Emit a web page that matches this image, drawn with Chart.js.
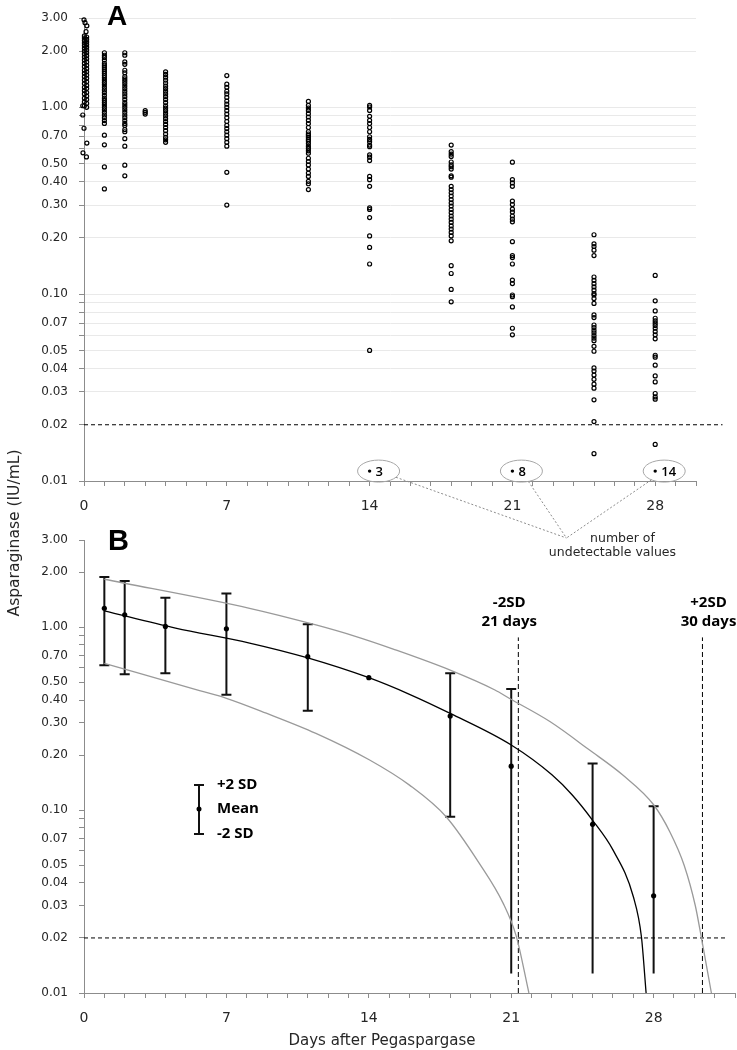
<!DOCTYPE html>
<html>
<head>
<meta charset="utf-8">
<title>Asparaginase activity after pegaspargase</title>
<script src="https://cdn.jsdelivr.net/npm/chart.js@4.4.1/dist/chart.umd.min.js"></script>
<style>
  html, body { margin: 0; padding: 0; background: #fff; }
  #figure { position: relative; width: 737px; height: 1050px; overflow: hidden; }
  #chartA { position: absolute; left: 0; top: 0; }
  #chartB { position: absolute; left: 0; top: 520px; }
  .axis-title { position: absolute; font-family: "DejaVu Sans", sans-serif; font-size: 15px; line-height: 20px; color: #262626; white-space: nowrap; text-align: center; }
  #yTitle { left: -86px; top: 523px; width: 200px; font-size: 15.5px; transform: rotate(-90deg); }
  #xTitle { left: 232px; top: 1030px; width: 300px; }
</style>
</head>
<body>
<div id="figure">
  <canvas id="chartA" width="737" height="570"></canvas>
  <canvas id="chartB" width="747" height="530"></canvas>
  <div id="yTitle" class="axis-title">Asparaginase (IU/mL)</div>
  <div id="xTitle" class="axis-title">Days after Pegaspargase</div>
</div>
<script>
// ---------- shared axis ticks ----------
const yTickValues = [0.01, 0.02, 0.03, 0.04, 0.05, 0.06, 0.07, 0.08, 0.09, 0.1, 0.2, 0.3, 0.4, 0.5, 0.6, 0.7, 0.8, 0.9, 1, 2, 3];
const yTickLabels = ['0.01', '0.02', '0.03', '0.04', '0.05', '', '0.07', '', '', '0.10', '0.20', '0.30', '0.40', '0.50', '', '0.70', '', '', '1.00', '2.00', '3.00'];
const xLabelDays = [0, 7, 14, 21, 28];
const lloq = 0.02; // lower limit of quantification (dashed line)

// ---------- panel A: individual samples (IU/mL) ----------
const day0Times = [0, 0.05, 0.14, 0.1,
  0.02, 0.13, 0.02, 0.13, 0.02, 0.13, 0.02, 0.13, 0.02, 0.13, 0.02, 0.13, 0.02, 0.13, 0.02, 0.13,
  0.02, 0.13, 0.02, 0.13, 0.02, 0.13, 0.02, 0.13, 0.02, 0.13, 0.02, 0.13, 0.02, 0.13, 0.02, 0.13,
  0.02, 0.13, 0.02, 0.13, 0.02, 0.13, 0.02, 0.13, 0.02, 0.13, 0.02, 0.13, 0.02, 0.13,
  -0.06, -0.06, 0, 0.14, -0.05, 0.12];
const day0Levels = [2.94, 2.84, 2.73, 2.54,
  2.41, 2.38, 2.35, 2.31, 2.28, 2.24, 2.21, 2.17, 2.14, 2.10, 2.07, 2.03, 2.00, 1.96, 1.93, 1.89,
  1.86, 1.82, 1.79, 1.75, 1.72, 1.68, 1.65, 1.61, 1.58, 1.55, 1.52, 1.49, 1.46, 1.43, 1.40, 1.37,
  1.34, 1.31, 1.28, 1.26, 1.23, 1.20, 1.18, 1.15, 1.12, 1.10, 1.07, 1.05, 1.02, 1.00,
  1.02, 0.91, 0.773, 0.644, 0.571, 0.543];
const day1Levels = [1.96, 1.90, 1.85, 1.79, 1.72, 1.68, 1.64, 1.60, 1.56, 1.52, 1.48, 1.44, 1.40, 1.36, 1.32, 1.28, 1.24, 1.20, 1.16, 1.12, 1.09, 1.06, 1.03, 1.00, 0.97, 0.94, 0.91, 0.88, 0.85, 0.82, 0.71, 0.63, 0.48, 0.366];
const day2Levels = [1.96, 1.90, 1.75, 1.70, 1.58, 1.53, 1.46, 1.42, 1.38, 1.34, 1.30, 1.26, 1.22, 1.18, 1.14, 1.10, 1.06, 1.03, 1.00, 0.97, 0.94, 0.91, 0.88, 0.85, 0.82, 0.80, 0.76, 0.74, 0.68, 0.62, 0.49, 0.43];
const day3Levels = [0.96, 0.94, 0.92];
const day4Levels = [1.55, 1.50, 1.45, 1.40, 1.35, 1.30, 1.26, 1.22, 1.18, 1.14, 1.10, 1.06, 1.02, 0.99, 0.96, 0.93, 0.90, 0.87, 0.84, 0.81, 0.78, 0.75, 0.72, 0.69, 0.67, 0.65];
const day7Levels = [1.48, 1.33, 1.28, 1.22, 1.18, 1.13, 1.08, 1.04, 1.00, 0.96, 0.92, 0.88, 0.84, 0.80, 0.77, 0.74, 0.71, 0.68, 0.65, 0.62, 0.449, 0.30];
const day11Levels = [1.075, 1.024, 0.992, 0.963, 0.925, 0.888, 0.852, 0.819, 0.780, 0.740, 0.720, 0.707, 0.690, 0.673, 0.660, 0.641, 0.620, 0.603, 0.585, 0.568, 0.534, 0.513, 0.492, 0.467, 0.445, 0.427, 0.402, 0.390, 0.363];
const day14Levels = [1.024, 1.004, 0.963, 0.895, 0.852, 0.819, 0.780, 0.740, 0.696, 0.673, 0.655, 0.628, 0.616, 0.556, 0.541, 0.519, 0.427, 0.410, 0.378, 0.290, 0.284, 0.257, 0.205, 0.178, 0.145, 0.050];
const day18Levels = [0.628, 0.580, 0.562, 0.546, 0.510, 0.492, 0.481, 0.467, 0.430, 0.423, 0.378, 0.363, 0.349, 0.335, 0.321, 0.308, 0.296, 0.284, 0.273, 0.262, 0.252, 0.242, 0.232, 0.223, 0.214, 0.205, 0.193, 0.142, 0.129, 0.106, 0.091];
const day21Levels = [0.509, 0.410, 0.394, 0.378, 0.315, 0.302, 0.285, 0.275, 0.262, 0.252, 0.244, 0.191, 0.161, 0.157, 0.145, 0.119, 0.114, 0.099, 0.097, 0.0855, 0.0657, 0.0606];
const day25Levels = [0.208, 0.186, 0.180, 0.172, 0.161, 0.1236, 0.1186, 0.1138, 0.1093, 0.105, 0.1007, 0.0989, 0.0948, 0.0892, 0.0774, 0.0749, 0.0684, 0.0663, 0.0641, 0.0621, 0.0601, 0.0582, 0.0564, 0.0526, 0.0495, 0.0403, 0.0388, 0.0369, 0.035, 0.033, 0.0314, 0.0272, 0.0208, 0.014];
const day28Levels = [0.126, 0.0921, 0.0813, 0.0743, 0.0719, 0.0699, 0.0679, 0.0657, 0.0631, 0.0606, 0.0577, 0.0471, 0.046, 0.0417, 0.0365, 0.0339, 0.0294, 0.0282, 0.0274, 0.0157];
const sampleDays = [1, 2, 3, 4, 7, 11, 14, 18, 21, 25, 28];
const sampleLevels = [day1Levels, day2Levels, day3Levels, day4Levels, day7Levels, day11Levels, day14Levels, day18Levels, day21Levels, day25Levels, day28Levels];

// undetectable samples (shown as counts below the LLOQ)
const undetectDays = [14, 21, 28];
const undetectCounts = [3, 8, 14];
const undetectMarkLevel = 0.0113;
const calloutDay = 23.65;

// ---------- panel B: mean +/- 2 SD ----------
const barDays = [1, 2, 4, 7, 11, 14, 18, 21, 25, 28];
const meanLevels = [1.27, 1.17, 1.01, 0.98, 0.69, 0.53, 0.327, 0.174, 0.0836, 0.034];
const upperLevels = [1.88, 1.79, 1.45, 1.53, 1.04, null, 0.56, 0.46, 0.18, 0.105];
const lowerLevels = [0.62, 0.553, 0.56, 0.428, 0.35, null, 0.092, 0.0128, 0.0128, 0.0128];
const lowerCapped = [true, true, true, true, true, false, true, false, false, false];

const meanCurveDays = [1, 4.5, 8.14, 11, 14, 16, 18, 21, 23, 24, 25, 26, 27, 27.4, 27.63];
const meanCurveLevels = [1.23, 0.99, 0.82, 0.68, 0.53, 0.43, 0.338, 0.227, 0.156, 0.121, 0.088, 0.0606, 0.0337, 0.0203, 0.01];
const upperCurveDays = [1, 8.14, 11.4, 13.3, 15.2, 18, 20.2, 20.9, 22.9, 24.85, 26.5, 28, 28.8, 29.5, 30.05, 30.35, 30.84];
const upperCurveLevels = [1.83, 1.27, 1.03, 0.895, 0.76, 0.583, 0.454, 0.409, 0.305, 0.213, 0.155, 0.107, 0.076, 0.05, 0.03, 0.02, 0.01];
const lowerCurveDays = [1, 5.68, 7, 8.96, 11.4, 14.04, 16, 17.8, 19.44, 20.6, 21.25, 21.87];
const lowerCurveLevels = [0.635, 0.45, 0.409, 0.339, 0.263, 0.188, 0.137, 0.092, 0.051, 0.031, 0.0204, 0.01];

const cutoffDays = [21.35, 30.4];
const cutoffLabelDays = [20.9, 30.7];
const cutoffLabels = [['-2SD', '21 days'], ['+2SD', '30 days']];
const cutoffTopLevel = 0.88;

const toPoints = (xs, ys) => xs.map((x, i) => ({ x: x, y: ys[i] }));

Chart.defaults.font.family = '"DejaVu Sans", sans-serif';
Chart.defaults.color = '#262626';

function logAxis(showGrid) {
  return {
    type: 'logarithmic', min: 0.01, max: 3, bounds: 'data',
    afterBuildTicks: s => { s.ticks = yTickValues.map(v => ({ value: v })); },
    afterFit: s => { s.width = 84; },
    ticks: { autoSkip: false, padding: 11, font: { size: 12 }, color: '#262626',
      callback: (v, i) => yTickLabels[i] },
    grid: { drawOnChartArea: showGrid, tickLength: 5, tickColor: '#8c8c8c',
      color: c => (c.tick && c.tick.value <= 0.02) ? 'rgba(0,0,0,0)' : '#e9e9e9' },
    border: { color: '#8c8c8c' }
  };
}

function dayAxis(maxDay, height) {
  return {
    type: 'linear', min: 0, max: maxDay,
    afterFit: s => { s.height = height; },
    ticks: { stepSize: 1, autoSkip: false, maxRotation: 0, padding: 12, font: { size: 14 }, color: '#262626',
      callback: v => (xLabelDays.includes(v) ? String(v) : '') },
    grid: { drawOnChartArea: false, tickLength: 5, tickColor: '#8c8c8c' },
    border: { color: '#8c8c8c' }
  };
}

// ---------- panel A ----------
const samplePoints = toPoints(day0Times, day0Levels);
sampleDays.forEach((d, i) => sampleLevels[i].forEach(v => samplePoints.push({ x: d, y: v })));

const panelADecor = {
  id: 'panelADecor',
  afterDatasetsDraw(chart) {
    const { ctx, chartArea, scales: { x, y } } = chart;
    ctx.save();
    ctx.fillStyle = '#000';
    ctx.font = 'bold 28px "Liberation Sans", sans-serif';
    ctx.textAlign = 'left';
    ctx.textBaseline = 'alphabetic';
    ctx.fillText('A', 107, 25);

    const hubX = x.getPixelForValue(calloutDay);
    const hubY = chartArea.bottom + 57;
    const rx = 21, ry = 11;
    undetectDays.forEach((d, i) => {
      const px = x.getPixelForValue(d);
      const py = y.getPixelForValue(undetectMarkLevel);
      const cx = px + 9;
      ctx.setLineDash([]);
      ctx.strokeStyle = '#a6a6a6';
      ctx.lineWidth = 1;
      ctx.beginPath();
      ctx.ellipse(cx, py, rx, ry, 0, 0, Math.PI * 2);
      ctx.stroke();
      ctx.fillStyle = '#000';
      ctx.font = '600 13px "Open Sans", sans-serif';
      ctx.textBaseline = 'middle';
      ctx.fillText(String(undetectCounts[i]), px + 6, py + 1);
      // leader line to the note
      const t = Math.atan2((hubY - py) / ry, (hubX - cx) / rx);
      ctx.setLineDash([2, 2]);
      ctx.strokeStyle = '#8c8c8c';
      ctx.beginPath();
      ctx.moveTo(cx + rx * Math.cos(t), py + ry * Math.sin(t));
      ctx.lineTo(hubX, hubY);
      ctx.stroke();
    });
    ctx.setLineDash([]);
    ctx.fillStyle = '#262626';
    ctx.font = '12.5px "DejaVu Sans", sans-serif';
    ctx.textAlign = 'center';
    ctx.textBaseline = 'middle';
    ctx.fillText('number of', hubX + 56, hubY + 1);
    ctx.fillText('undetectable values', hubX + 46, hubY + 15);
    ctx.restore();
  }
};

new Chart(document.getElementById('chartA'), {
  type: 'scatter',
  data: {
    datasets: [
      { data: samplePoints, pointRadius: 2, borderWidth: 1.2, borderColor: '#000',
        backgroundColor: 'rgba(255,255,255,0)', clip: false },
      { data: undetectDays.map(d => ({ x: d, y: undetectMarkLevel })), pointRadius: 1.7,
        borderWidth: 0, backgroundColor: '#000' },
      { data: [{ x: 0, y: lloq }, { x: 31.3, y: lloq }], showLine: true, pointRadius: 0,
        borderColor: '#000', borderWidth: 1, borderDash: [4, 3], clip: false }
    ]
  },
  options: {
    responsive: false, animation: false, events: [],
    layout: { padding: { top: 13.5, right: 41, left: 0, bottom: 0 } },
    plugins: { legend: { display: false }, tooltip: { enabled: false } },
    scales: { x: dayAxis(30, 89), y: logAxis(true) }
  },
  plugins: [panelADecor]
});

// ---------- panel B ----------
const panelBDecor = {
  id: 'panelBDecor',
  beforeDatasetsDraw(chart) {
    const { ctx, scales: { x, y } } = chart;
    ctx.save();
    ctx.strokeStyle = '#111';
    ctx.lineWidth = 2;
    barDays.forEach((d, i) => {
      if (upperLevels[i] == null) return;
      const px = x.getPixelForValue(d);
      const top = y.getPixelForValue(upperLevels[i]);
      const bot = y.getPixelForValue(lowerLevels[i]);
      ctx.beginPath();
      ctx.moveTo(px, top); ctx.lineTo(px, bot);
      ctx.moveTo(px - 5, top); ctx.lineTo(px + 5, top);
      if (lowerCapped[i]) { ctx.moveTo(px - 5, bot); ctx.lineTo(px + 5, bot); }
      ctx.stroke();
    });
    ctx.restore();
  },
  afterDatasetsDraw(chart) {
    const { ctx, scales: { x } } = chart;
    ctx.save();
    ctx.fillStyle = '#000';
    ctx.font = 'bold 29px "Liberation Sans", sans-serif';
    ctx.textAlign = 'left';
    ctx.textBaseline = 'alphabetic';
    ctx.fillText('B', 108, 30);

    ctx.font = 'bold 15px "Open Sans", sans-serif';
    ctx.textAlign = 'center';
    ctx.textBaseline = 'middle';
    cutoffLabelDays.forEach((d, i) => {
      const px = x.getPixelForValue(d);
      ctx.fillText(cutoffLabels[i][0], px, 83);
      ctx.fillText(cutoffLabels[i][1], px, 102);
    });

    // legend: error bar symbol
    const lx = 199, lt = 265, lm = 289, lb = 314;
    ctx.strokeStyle = '#111';
    ctx.lineWidth = 2;
    ctx.beginPath();
    ctx.moveTo(lx, lt); ctx.lineTo(lx, lb);
    ctx.moveTo(lx - 5, lt); ctx.lineTo(lx + 5, lt);
    ctx.moveTo(lx - 5, lb); ctx.lineTo(lx + 5, lb);
    ctx.stroke();
    ctx.beginPath();
    ctx.arc(lx, lm, 2.5, 0, Math.PI * 2);
    ctx.fill();
    ctx.textAlign = 'left';
    ctx.fillText('+2 SD', lx + 18, lt);
    ctx.fillText('Mean', lx + 18, lm);
    ctx.fillText('-2 SD', lx + 18, lb);
    ctx.restore();
  }
};

const curveStyle = { showLine: true, pointRadius: 0, borderWidth: 1.3, cubicInterpolationMode: 'monotone', clip: false };

new Chart(document.getElementById('chartB'), {
  type: 'scatter',
  data: {
    datasets: [
      { data: toPoints(barDays, meanLevels), pointRadius: 2.6, borderWidth: 0, backgroundColor: '#000' },
      Object.assign({ data: toPoints(meanCurveDays, meanCurveLevels), borderColor: '#000' }, curveStyle),
      Object.assign({ data: toPoints(upperCurveDays, upperCurveLevels), borderColor: '#9a9a9a' }, curveStyle),
      Object.assign({ data: toPoints(lowerCurveDays, lowerCurveLevels), borderColor: '#9a9a9a' }, curveStyle),
      { data: [{ x: 0, y: lloq }, { x: 31.55, y: lloq }], showLine: true, pointRadius: 0,
        borderColor: '#000', borderWidth: 1, borderDash: [4, 3], clip: false },
      ...cutoffDays.map(d => ({
        data: [{ x: d, y: 0.01 }, { x: d, y: cutoffTopLevel }], showLine: true, pointRadius: 0,
        borderColor: '#000', borderWidth: 1, borderDash: [5, 3]
      }))
    ]
  },
  options: {
    responsive: false, animation: false, events: [],
    layout: { padding: { top: 20, right: 0, left: 0, bottom: 0 } },
    plugins: { legend: { display: false }, tooltip: { enabled: false } },
    scales: { x: dayAxis(32, 57), y: logAxis(false) }
  },
  plugins: [panelBDecor]
});
</script>
</body>
</html>
